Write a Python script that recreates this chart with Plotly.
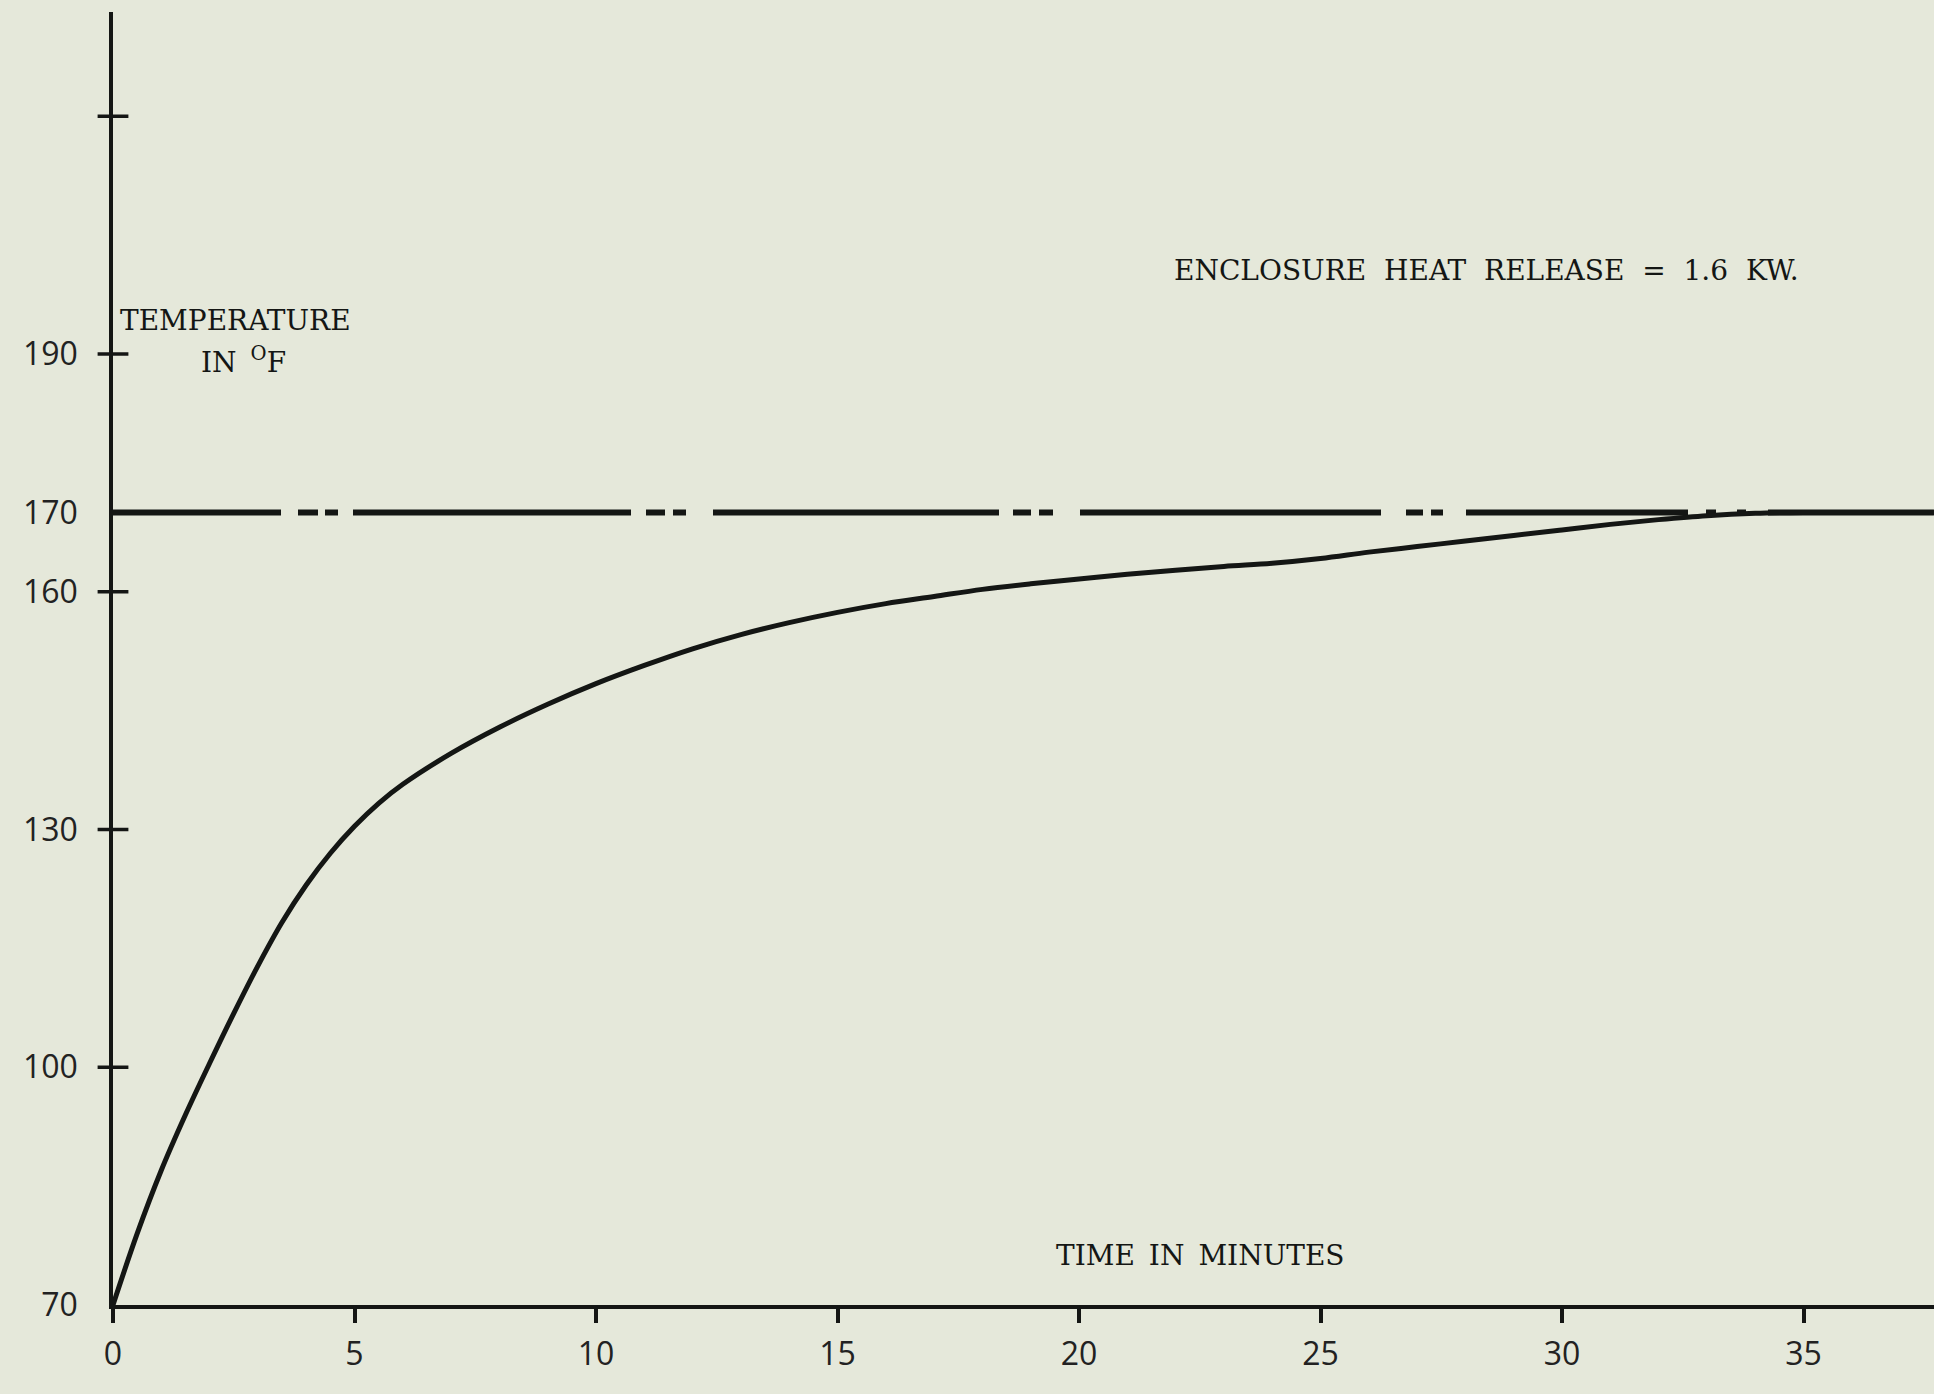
import plotly.graph_objects as go

# ---- data ----
time_min = [0, 0.5, 1.0, 1.5, 2.0, 2.5, 3.0, 3.5, 4.0, 4.5, 5.0, 5.5, 6.0, 7.0,
            8.0, 9.0, 10.0, 11.0, 12.0, 13.0, 14.0, 15.0, 16.0, 17.0, 18.0,
            19.0, 20.0, 21.0, 22.0, 23.0, 24.0, 25.0, 26.0, 27.0, 28.0, 29.0,
            30.0, 31.0, 32.0, 33.0, 34.0, 35.0, 37.7]
temp_f = [70, 79, 87, 94, 100.5, 106.8, 112.8, 118.3, 123.0, 127.0, 130.4, 133.3,
          135.7, 139.6, 142.9, 145.8, 148.4, 150.7, 152.8, 154.6, 156.1, 157.4,
          158.5, 159.4, 160.3, 161.0, 161.6, 162.2, 162.7, 163.2, 163.6, 164.2,
          165.0, 165.7, 166.4, 167.1, 167.8, 168.5, 169.1, 169.6, 169.9, 170, 170]

limit_temp = 170
limit_time = [0, 37.7]

x_tickvals = [0, 5, 10, 15, 20, 25, 30, 35]
x_ticktext = ["0", "5", "10", "15", "20", "25", "30", "35"]
y_tickvals = [70, 100, 130, 160, 170, 190]
y_ticktext = ["70", "100", "130", "160", "170", "190"]
y_cross_ticks = [100, 130, 160, 190, 220]

FS = "\u2007"   # figure space, to imitate typewriter spacing
ES = "\u2002"   # en space
title_text = FS.join(["ENCLOSURE", "HEAT", "RELEASE", "=", "1.6", "KW."])
y_title_1 = "TEMPERATURE"
y_title_2 = "IN" + ES + "<sup>O</sup>F"
x_title = ES.join(["TIME", "IN", "MINUTES"])

# ---- styling ----
BG = "#e5e8da"
INK = "#141614"
TYPE_FONT = dict(family="DejaVu Serif, Liberation Serif, serif", size=28, color=INK)
TICK_FONT = dict(family="Open Sans, DejaVu Sans, sans-serif", size=32, color="#222")

W, H = 1934, 1394
ML, MB, MT = 113, 89, 12
PX_PER_MIN = 48.3
PX_PER_DEG = 7.925
x_max = (W - ML) / PX_PER_MIN
y_max = 70 + (H - MB - MT) / PX_PER_DEG

dash_pattern = ("168px,17px,20px,7px,13px,15px,"
                "278px,15px,19px,8px,13px,27px,"
                "286px,14px,18px,8px,14px,27px,"
                "301px,25px,17px,8px,12px,23px,"
                "222px,18px,10px,21px,9px,22px,3000px")

fig = go.Figure()

# reference level line at 170 F
fig.add_trace(go.Scatter(
    x=limit_time, y=[limit_temp] * len(limit_time), mode="lines",
    line=dict(color=INK, width=6, dash=dash_pattern),
    cliponaxis=False, hoverinfo="skip", showlegend=False))

# temperature curve
fig.add_trace(go.Scatter(
    x=time_min, y=temp_f, mode="lines",
    line=dict(color=INK, width=5, shape="spline", smoothing=1.0),
    cliponaxis=False, showlegend=False))

# crossing tick marks on the y axis
fig.add_trace(go.Scatter(
    x=[0] * len(y_cross_ticks), y=y_cross_ticks, mode="markers",
    marker=dict(symbol="line-ew", size=22, line=dict(color=INK, width=3.5)),
    cliponaxis=False, hoverinfo="skip", showlegend=False))

fig.update_layout(
    width=W, height=H,
    margin=dict(l=ML, r=0, t=MT, b=MB, pad=0),
    paper_bgcolor=BG, plot_bgcolor=BG,
    showlegend=False,
    xaxis=dict(range=[0, x_max], showgrid=False, zeroline=False,
               showline=True, linecolor=INK, linewidth=3.5,
               tickmode="array", tickvals=x_tickvals, ticktext=x_ticktext,
               ticks="outside", ticklen=14, tickwidth=3.5, tickcolor=INK,
               ticklabelstandoff=4, tickfont=TICK_FONT),
    yaxis=dict(range=[70, y_max], showgrid=False, zeroline=False,
               showline=True, linecolor=INK, linewidth=3.5,
               tickmode="array", tickvals=y_tickvals, ticktext=y_ticktext,
               ticks="", ticklabelstandoff=25, tickfont=TICK_FONT),
    annotations=[
        dict(x=0.1, y=194.2, xref="x", yref="y", text=y_title_1, showarrow=False,
             xanchor="left", yanchor="middle", font=TYPE_FONT),
        dict(x=1.78, y=189.2, xref="x", yref="y", text=y_title_2, showarrow=False,
             xanchor="left", yanchor="middle", font=TYPE_FONT),
        dict(x=21.93, y=200.6, xref="x", yref="y", text=title_text, showarrow=False,
             xanchor="left", yanchor="middle", font=TYPE_FONT),
        dict(x=19.48, y=76.2, xref="x", yref="y", text=x_title, showarrow=False,
             xanchor="left", yanchor="middle", font=TYPE_FONT),
    ],
)

fig.write_html(
    "out.html",
    config={"displayModeBar": False},
    post_script="document.body.style.margin='0';document.body.style.background='%s';" % BG,
)
